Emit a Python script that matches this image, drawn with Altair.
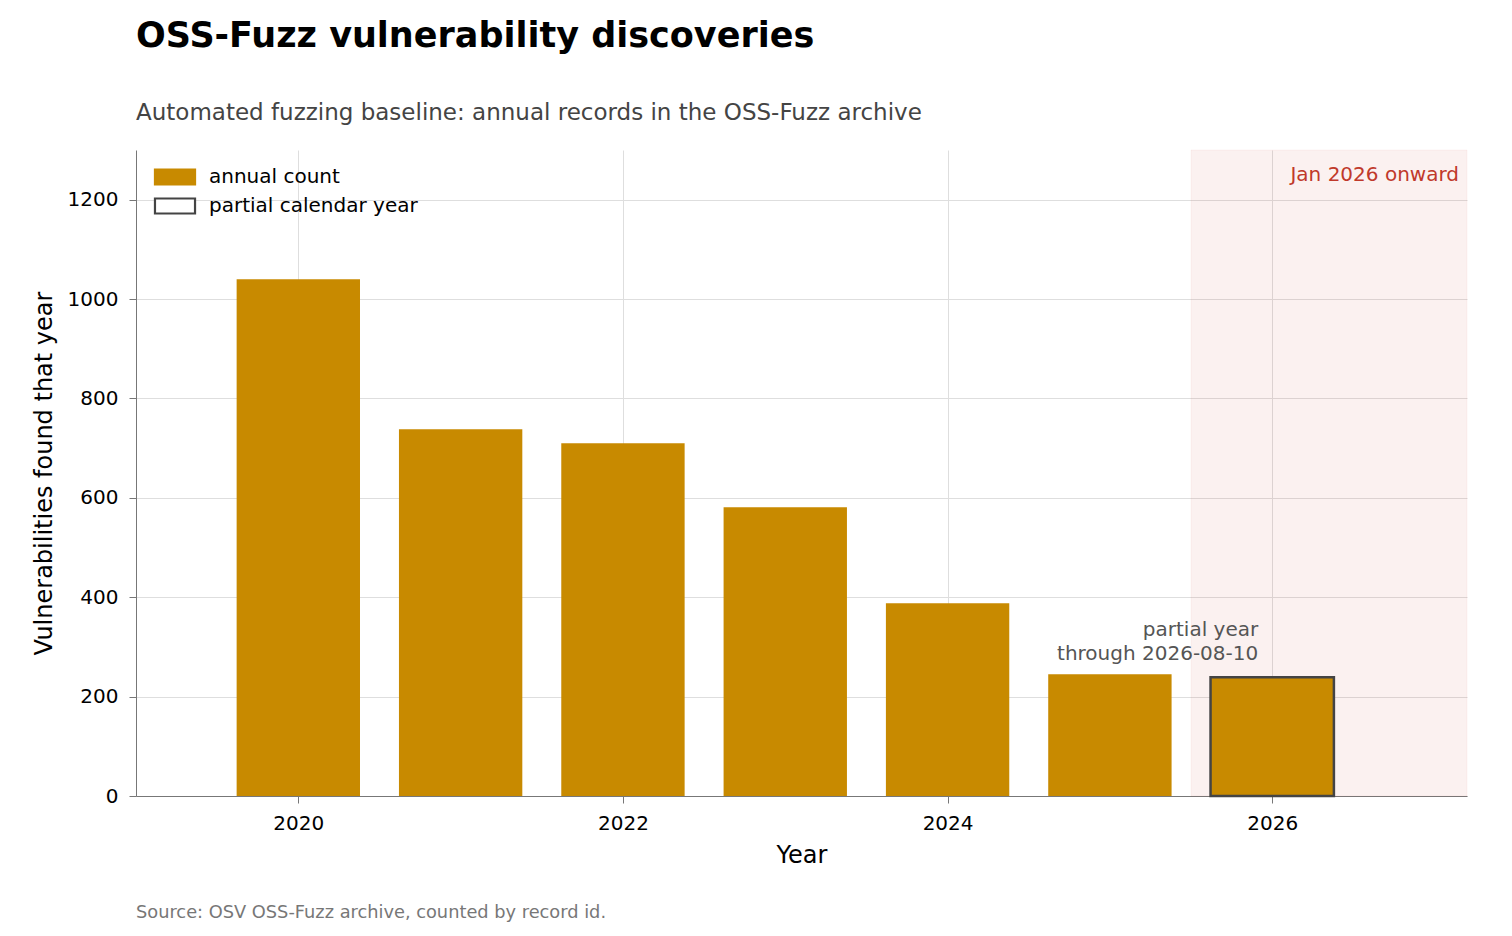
import pandas as pd
import altair as alt

# ── dados ──────────────────────────────────────────────────────────────
anos = [2020, 2021, 2022, 2023, 2024, 2025, 2026]
vulns = [1040, 738, 710, 581, 388, 245, 239]
ano_parcial = 2026
legenda_itens = ["annual count", "partial calendar year"]
anos_ticks = [2020, 2022, 2024, 2026]

COR_BARRA = "#c88a00"
COR_SOMBRA = "#c0392b"
LARGURA, ALTURA = 1331, 646
X_MIN, X_MAX = 2019.0, 2027.2
Y_MAX = 1300
FONTE = "DejaVu Sans"

df = pd.DataFrame({"ano": anos, "vulns": vulns})
df["parcial"] = df["ano"] == ano_parcial

escala_x = alt.Scale(domain=[X_MIN, X_MAX], nice=False, zero=False)
escala_y = alt.Scale(domain=[0, Y_MAX], nice=False)

eixo_x = alt.Axis(
    values=anos_ticks, format="d", title="Year", grid=True,
    tickSize=7, labelPadding=10, titlePadding=10,
)
eixo_y = alt.Axis(
    values=[0, 200, 400, 600, 800, 1000, 1200], format="d",
    title="Vulnerabilities found that year", grid=True,
    tickSize=7, labelPadding=11, titlePadding=11,
)

# faixa sombreada a partir de 2026
sombra = (
    alt.Chart(pd.DataFrame({"x0": [2025.5], "x1": [X_MAX], "y0": [0], "y1": [Y_MAX]}))
    .mark_rect(fill=COR_SOMBRA, fillOpacity=0.07, stroke=COR_SOMBRA, strokeOpacity=0.05)
    .encode(
        x=alt.X("x0:Q", scale=escala_x, axis=eixo_x),
        x2="x1:Q",
        y=alt.Y("y0:Q", scale=escala_y, axis=eixo_y),
        y2="y1:Q",
    )
)

barras = (
    alt.Chart(df)
    .transform_calculate(x0="datum.ano - 0.38", x1="datum.ano + 0.38")
    .mark_rect(color=COR_BARRA)
    .encode(
        x=alt.X("x0:Q", scale=escala_x),
        x2="x1:Q",
        y=alt.Y("vulns:Q", scale=escala_y),
        y2=alt.datum(0),
        tooltip=["ano:O", "vulns:Q"],
    )
)

contorno = (
    alt.Chart(df)
    .transform_filter("datum.parcial")
    .transform_calculate(x0="datum.ano - 0.38", x1="datum.ano + 0.38")
    .mark_rect(fill=COR_BARRA, stroke="#444444", strokeWidth=2.5)
    .encode(
        x=alt.X("x0:Q", scale=escala_x),
        x2="x1:Q",
        y=alt.Y("vulns:Q", scale=escala_y),
        y2=alt.datum(0),
    )
)

nota = (
    alt.Chart(df)
    .transform_filter("datum.parcial")
    .transform_calculate(txt="['partial year', 'through 2026-08-10']")
    .mark_text(
        align="right", baseline="bottom", dx=-14, dy=-37,
        fontSize=20, font=FONTE, color="#555555", lineHeight=24,
    )
    .encode(
        x=alt.X("ano:Q", scale=escala_x),
        y=alt.Y("vulns:Q", scale=escala_y),
        text="txt:N",
    )
)

rotulo_sombra = (
    alt.Chart(pd.DataFrame({"x": [X_MAX], "y": [Y_MAX], "t": ["Jan 2026 onward"]}))
    .mark_text(align="right", baseline="middle", dx=-8, dy=25,
               fontSize=20, font=FONTE, color=COR_SOMBRA)
    .encode(x=alt.X("x:Q", scale=escala_x), y=alt.Y("y:Q", scale=escala_y), text="t:N")
)

# camada vazia só para gerar a legenda
legenda = (
    alt.Chart(pd.DataFrame({"item": legenda_itens}))
    .transform_filter("false")
    .mark_square(opacity=1, filled=True)
    .encode(
        fill=alt.Fill(
            "item:N",
            scale=alt.Scale(domain=legenda_itens, range=[COR_BARRA, "#ffffff"]),
            legend=alt.Legend(
                title=None, orient="none", legendX=17, legendY=17,
                symbolType="M-2.67,-1H2.67V1H-2.67Z", symbolSize=225,
                symbolStrokeWidth=2.2, symbolOpacity=1, labelFontSize=20,
                labelFont=FONTE, labelColor="#000000", labelOffset=24,
                labelLimit=400, rowPadding=5, symbolOffset=12,
            ),
        ),
        stroke=alt.Stroke(
            "item:N",
            scale=alt.Scale(domain=legenda_itens, range=[COR_BARRA, "#444444"]),
        ),
    )
)

rodape = (
    alt.Chart(pd.DataFrame({"t": ["Source: OSV OSS-Fuzz archive, counted by record id."]}))
    .mark_text(align="left", baseline="middle", fontSize=17.8, font=FONTE, color="#777777")
    .encode(x=alt.value(0), y=alt.value(ALTURA + 117), text="t:N")
)

grafico = (
    alt.layer(sombra, barras, contorno, nota, rotulo_sombra, legenda, rodape)
    .properties(
        width=LARGURA,
        height=ALTURA,
        autosize=alt.AutoSizeParams(type="none"),
        padding={"left": 128, "top": 142, "right": 30, "bottom": 130},
        title=alt.Title(
            "OSS-Fuzz vulnerability discoveries",
            subtitle="Automated fuzzing baseline: annual records in the OSS-Fuzz archive",
            anchor="start", frame="group", offset=25,
            fontSize=35, font=FONTE, fontWeight="bold", color="#000000",
            subtitleFontSize=23, subtitleFont=FONTE, subtitleColor="#444444",
            subtitlePadding=48,
        ),
    )
    .configure_view(stroke=None)
    .configure_axis(
        domainColor="#777777", tickColor="#777777", gridColor="#dedede",
        labelFont=FONTE, labelFontSize=20, labelColor="#000000",
        titleFont=FONTE, titleFontSize=24, titleFontWeight="normal", titleColor="#000000",
    )
)

grafico.save("out.html", embed_options={"renderer": "svg", "actions": False})
